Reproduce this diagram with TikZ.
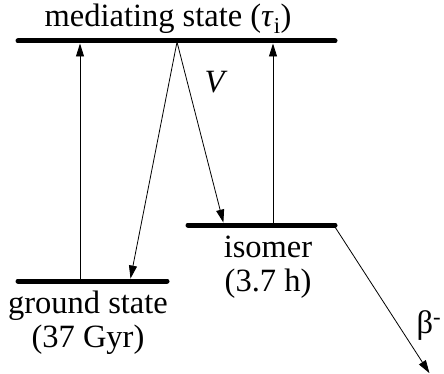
\documentclass[tikz,border=0pt]{standalone}
\usepackage{fontspec}
\setmainfont{Liberation Serif}
\usetikzlibrary{arrows.meta, positioning}
\tikzset{
  % Level scheme styles
  level/.style={line width=5pt, line cap=round},
  trans/.style={-{Triangle[length=13pt, width=8pt]}, line width=0.8pt, shorten >=2.5pt},
  lbl/.style={font=\fontsize{32.5}{34}\selectfont, align=center, inner sep=0pt},
}

\begin{document}
\begin{tikzpicture}[x=1pt, y=-1pt]
    \useasboundingbox (0,0) rectangle (444,374);

    % Levels
    \coordinate (top-l) at (18,41);
    \coordinate (top-r) at (335,41);
    \coordinate (iso-l) at (188,225);
    \coordinate (iso-r) at (335,225);
    \coordinate (gnd-l) at (18,281);
    \coordinate (gnd-r) at (167,281);
    \draw[level] (top-l) -- (top-r);
    \draw[level] (iso-l) -- (iso-r);
    \draw[level] (gnd-l) -- (gnd-r);

    % Labels
    \node[lbl] (med) at (168,19) {mediating state (\textit{τ}\textsubscript{i})};
    \node[lbl, anchor=north] (iso) at (268,236) {isomer\\(3.7 h)};
    \node[lbl, anchor=north] (gnd) at (88,291) {ground state\\(37 Gyr)};
    \node[lbl] (V) at (216,82) {\textit{V}};
    \node[lbl] (beta) at (429,326) {β\textsuperscript{-}};

    % Arrow ends
    \coordinate (up1-a) at (80,281);
    \coordinate (up1-b) at (80,41);
    \coordinate (up2-a) at (273,225);
    \coordinate (up2-b) at (273,41);
    \coordinate (v-o) at (177,42);
    \coordinate (v-g) at (130,281);
    \coordinate (v-i) at (224,225);
    \coordinate (b-o) at (335,227);
    \coordinate (b-e) at (430,374);

    % Transitions
    \draw[trans] (up1-a) -- (up1-b);
    \draw[trans] (up2-a) -- (up2-b);
    \draw[trans] (v-o) -- (v-g);
    \draw[trans] (v-o) -- (v-i);
    \draw[trans, shorten >=1pt] (b-o) -- (b-e);
\end{tikzpicture}
\end{document}
